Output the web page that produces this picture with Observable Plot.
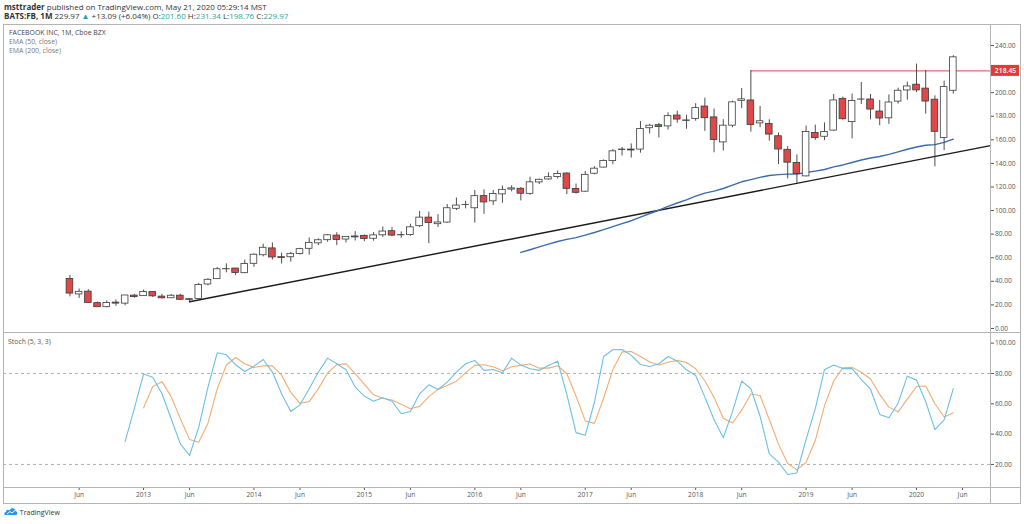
<!DOCTYPE html>
<html><head><meta charset="utf-8">
<script src="https://cdn.jsdelivr.net/npm/d3@7"></script>
<script src="https://cdn.jsdelivr.net/npm/@observablehq/plot@0.6"></script>
<style>
body{margin:0;background:#fff;font-family:"Open Sans",sans-serif;}
#page{position:relative;width:1024px;height:524px;overflow:hidden;background:#fff;}
.abs{position:absolute;white-space:nowrap;}
.hdr{left:4px;font-size:8px;line-height:10px;color:#333;}
.up{color:#26a69a}
.leg{left:9px;font-size:6.9px;line-height:10px;color:#777;}
.ln{position:absolute;background:#b4b4b4;}
</style></head><body><div id="page">
<div id="price" class="abs" style="left:0;top:24px"></div>
<div id="stoch" class="abs" style="left:0;top:332px"></div>

<div class="ln" style="left:3px;top:24px;width:1018px;height:1px"></div>
<div class="ln" style="left:3px;top:24px;width:1px;height:480px"></div>
<div class="ln" style="left:1020px;top:24px;width:1px;height:480px"></div>
<div class="ln" style="left:3px;top:503px;width:1018px;height:1px"></div>
<div class="ln" style="left:3px;top:332px;width:1018px;height:1px"></div>
<div class="ln" style="left:3px;top:487px;width:1018px;height:1px"></div>
<div class="ln" style="left:990px;top:24px;width:1px;height:480px"></div>

<div class="abs hdr" style="top:2px"><b>msttrader</b> published on TradingView.com, May 21, 2020 05:29:14 MST</div>
<div class="abs hdr" style="top:11px" id="hdr2"></div>
<div class="abs leg" style="top:28px;color:#444">FACEBOOK INC, 1M, Cboe BZX</div>
<div class="abs leg" style="top:37px">EMA (50, close)</div>
<div class="abs leg" style="top:46px">EMA (200, close)</div>
<div class="abs leg" style="top:337px;left:8px;color:#555">Stoch (5, 3, 3)</div>
<div class="abs" style="left:4px;top:507px;font-size:7px;line-height:10px;color:#333">
<svg width="14" height="9" viewBox="0 0 14 9" style="vertical-align:-1px"><path d="M1 8 C0 8 0 5 2 5 C2 3 4 2 5.5 3.5 C6.5 0.5 11 0.5 11.5 4 C13.5 4 14 8 12 8 Z" fill="#2196f3"/><path d="M3 7 L6 4.5 L8 6 L11 3.5" stroke="#fff" stroke-width="1" fill="none"/></svg> TradingView</div>
</div>
<script>
// Monthly candles, FB, May 2012 .. May 2020 (index 0 = 2012-05)
const open = [
42.05, 28.89, 31.25, 21.50, 18.08, 21.95, 21.08, 27.90,
27.44, 31.00, 27.05, 25.63, 27.85, 24.27, 24.97, 37.30, 41.84, 50.31, 50.85, 46.90,
54.86, 62.12, 67.92, 60.46, 60.43, 63.23, 67.58, 72.22, 74.89, 78.78, 75.46, 77.26,
78.58, 76.11, 79.00, 82.50, 79.00, 79.30, 86.77, 94.05, 88.44, 89.82, 101.50, 104.83,
101.95, 112.27, 107.83, 113.75, 117.83, 118.50, 114.20, 123.85, 126.38, 128.38, 131.41, 118.38,
116.03, 131.25, 136.47, 141.93, 151.74, 151.75, 151.72, 169.82, 172.40, 171.39, 180.57, 176.03,
177.68, 188.22, 179.01, 157.81, 172.00, 193.07, 193.37, 173.93, 173.50, 163.03, 151.52, 140.32,
128.99, 165.84, 162.60, 167.83, 194.78, 175.00, 194.08, 194.20, 184.00, 178.23, 192.40, 201.90,
206.75, 203.44, 194.03, 161.62, 201.60];
const high = [
45.00, 33.45, 32.88, 22.45, 23.37, 24.25, 28.00, 28.88,
32.51, 31.02, 28.98, 28.85, 29.07, 25.50, 38.31, 42.26, 51.60, 54.83, 50.90, 57.96,
63.37, 71.44, 72.59, 63.91, 64.45, 68.00, 76.74, 75.99, 79.71, 81.16, 77.96, 82.17,
79.25, 81.37, 86.07, 85.59, 81.95, 88.40, 99.24, 98.74, 96.49, 105.12, 110.65, 107.92,
117.00, 117.59, 116.99, 120.79, 121.08, 119.44, 128.33, 126.73, 131.98, 133.50, 131.94, 122.50,
133.14, 137.18, 142.95, 151.74, 153.60, 156.50, 175.49, 173.05, 174.00, 182.90, 184.25, 180.80,
190.66, 195.32, 186.10, 177.10, 192.72, 203.55, 218.62, 188.30, 177.00, 165.88, 154.13, 147.19,
171.68, 172.47, 174.30, 198.48, 196.18, 198.88, 208.66, 198.50, 193.25, 198.09, 203.80, 208.93,
224.20, 218.77, 197.24, 209.69, 231.34];
const low = [
26.83, 25.52, 21.61, 18.03, 17.55, 18.80, 19.32, 25.60,
27.42, 26.34, 25.10, 25.52, 23.77, 22.67, 24.79, 36.26, 41.55, 47.25, 44.82, 46.50,
51.85, 60.70, 57.98, 54.66, 56.26, 62.34, 62.21, 70.32, 73.22, 70.32, 72.51, 74.20,
73.54, 74.05, 77.26, 77.80, 76.53, 78.22, 85.53, 72.00, 85.66, 89.27, 100.00, 101.46,
89.37, 96.82, 104.40, 106.31, 115.88, 108.23, 112.97, 122.07, 125.60, 126.75, 113.55, 114.00,
115.51, 130.30, 136.08, 138.81, 146.30, 144.56, 148.67, 165.00, 161.56, 168.29, 174.00, 168.90,
175.80, 167.18, 149.02, 150.51, 170.23, 186.43, 166.56, 170.27, 158.87, 139.03, 126.85, 123.02,
128.56, 159.59, 159.28, 167.28, 176.66, 160.84, 190.00, 176.91, 172.00, 173.10, 190.25, 193.63,
199.97, 181.82, 137.10, 150.83, 198.76];
const close = [
29.60, 31.10, 21.71, 18.06, 21.66, 21.11, 28.00, 26.62,
30.98, 27.25, 25.58, 27.77, 24.35, 24.88, 36.80, 41.29, 50.23, 50.21, 47.01, 54.65,
62.57, 68.46, 60.24, 59.78, 63.30, 67.29, 72.65, 74.82, 79.04, 74.99, 77.70, 78.02,
75.91, 78.97, 82.22, 78.77, 79.19, 85.77, 94.01, 89.43, 89.90, 101.97, 104.24, 104.66,
112.21, 106.92, 114.10, 117.58, 118.81, 114.28, 123.94, 126.12, 128.27, 130.99, 118.42, 115.05,
130.32, 135.54, 142.05, 150.25, 151.46, 150.98, 169.25, 171.97, 170.87, 180.06, 177.18, 176.46,
186.89, 178.32, 159.79, 172.00, 191.78, 194.32, 172.58, 175.73, 164.46, 151.79, 140.61, 131.09,
166.69, 161.45, 166.69, 193.40, 177.47, 193.00, 194.23, 185.67, 178.08, 191.65, 201.64, 205.25,
201.91, 192.47, 166.80, 204.71, 229.97];

// EMA(50) starting Jun 2016 (index 49)
const emaStart = 49;
const ema50 = [
64.5, 66.8, 69.2, 71.5, 73.8, 75.6, 77.1,
79.2, 81.4, 83.8, 86.4, 88.9, 91.4, 94.4, 97.5, 100.3, 103.5, 106.4, 109.1,
112.2, 114.8, 116.5, 118.7, 121.6, 124.4, 126.3, 128.2, 129.7, 130.5, 130.9, 130.9,
132.3, 133.5, 134.8, 137.1, 138.7, 140.8, 142.9, 144.6, 145.9, 147.7, 149.8, 152.0,
153.9, 155.4, 155.9, 157.8, 160.6];

// Stochastic %K starting Nov 2012 (index 6), %D starting Jan 2013 (index 8)
const kStart = 6;
const stochK = [
35.2, 57.0,
79.6, 77.5, 66.6, 50.1, 33.6, 25.9, 44.6, 71.0, 93.6, 92.3, 85.7, 81.3,
84.8, 89.2, 80.9, 66.6, 54.9, 59.3, 69.9, 80.9, 90.1, 86.4, 82.4, 71.0,
65.0, 61.7, 64.0, 61.7, 53.4, 54.9, 66.6, 72.5, 69.4, 74.3, 80.9, 86.4,
88.6, 82.0, 82.6, 80.4, 90.1, 85.5, 83.1, 82.0, 85.3, 88.1, 66.0, 41.0,
39.2, 61.0, 91.2, 95.6, 95.8, 91.9, 85.9, 84.6, 86.4, 91.2, 88.1, 82.4,
78.7, 64.4, 49.5, 37.6, 54.8, 74.9, 69.9, 51.8, 27.0, 21.5, 13.4, 14.4,
36.5, 56.8, 82.5, 85.6, 83.2, 83.2, 76.0, 69.6, 53.0, 50.8, 60.4, 78.2,
75.6, 61.4, 43.0, 49.4, 70.0];
const dStart = 8;
const stochD = [
57.3, 71.4, 74.6, 64.7, 50.1, 36.5, 34.7, 47.2, 69.7, 85.6, 90.5, 86.4,
83.9, 85.1, 85.0, 78.9, 67.5, 60.3, 61.4, 70.0, 80.3, 85.8, 86.3, 79.9,
72.8, 65.9, 63.6, 62.5, 59.7, 56.7, 58.3, 64.7, 69.5, 72.1, 74.9, 80.5,
85.3, 85.7, 84.4, 81.7, 84.4, 85.3, 86.2, 83.5, 83.5, 85.1, 79.8, 65.0,
48.7, 47.1, 63.8, 82.6, 94.2, 94.4, 91.2, 87.5, 85.6, 87.4, 88.6, 87.2,
83.1, 75.2, 64.2, 50.5, 47.3, 55.8, 66.5, 65.5, 49.6, 33.4, 20.6, 16.4,
21.4, 35.9, 58.6, 75.0, 83.8, 84.0, 80.8, 76.3, 66.2, 57.8, 54.7, 63.1,
71.4, 71.7, 60.0, 51.3, 54.1];

// Trendline (Jun 2013 low through Dec 2018 low, extended to the right edge)
const trendIdx = [13, 100.04];
const trendVal = [22.67, 155.1];
const resistance = 218.45, resistanceFrom = 74; // Jul 2018 high

// Time axis
const tickIdx = [1, 8, 13, 20, 25, 32, 37, 44, 49, 56, 61, 68, 73, 80, 85, 92, 97];
const tickLabels = ["Jun","2013","Jun","2014","Jun","2015","Jun","2016","Jun","2017","Jun","2018","Jun","2019","Jun","2020","Jun"];
const priceTicks = [0, 20, 40, 60, 80, 100, 120, 140, 160, 180, 200, 220, 240];
const stochTicks = [20, 40, 60, 80, 100];

const xDomain = [-7.22, 100.04];
const candles = close.map((c, i) => ({i, open: open[i], high: high[i], low: low[i], close: c}));
const emaData = ema50.map((v, k) => ({i: emaStart + k, v}));
const kData = stochK.map((v, k) => ({i: kStart + k, v}));
const dData = stochD.map((v, k) => ({i: dStart + k, v}));
const trend = trendIdx.map((i, k) => ({i, v: trendVal[k]}));

const last = candles[candles.length - 1];
document.getElementById("hdr2").innerHTML =
  `<b>BATS:FB, 1M</b> ${last.close.toFixed(2)} <span class="up">▲</span> +13.09 (+6.04%) O:<span class="up">${last.open.toFixed(2)}</span> H:<span class="up">${last.high.toFixed(2)}</span> L:<span class="up">${last.low.toFixed(2)}</span> C:<span class="up">${last.close.toFixed(2)}</span>`;

const RED = "#e04848", EDGE = "#3a3a3a";
const axisStyle = {fontFamily: "Open Sans, sans-serif", fontSize: "6.6px", color: "#555", background: "transparent", overflow: "visible"};

const price = Plot.plot({
  width: 1024, height: 308,
  marginLeft: 3, marginRight: 34, marginTop: 0, marginBottom: 0,
  style: axisStyle,
  x: {domain: xDomain, axis: null},
  y: {domain: [-3.4, 257.8], axis: "right", ticks: priceTicks, tickFormat: d => d.toFixed(2), tickSize: 3, tickPadding: 1.5, label: null},
  marks: [
    Plot.line(trend, {x: "i", y: "v", stroke: "#1a1a1a", strokeWidth: 1.4}),
    Plot.line(emaData, {x: "i", y: "v", stroke: "#3a6cab", strokeWidth: 1.4}),
    Plot.ruleY([resistance], {x1: resistanceFrom, x2: xDomain[1], stroke: "#d94a3f", strokeWidth: 1}),
    Plot.ruleX(candles, {x: "i", y1: "low", y2: "high", stroke: EDGE, strokeWidth: 0.9}),
    Plot.rect(candles, {x1: d => d.i - 0.36, x2: d => d.i + 0.36, y1: "open", y2: "close",
      fill: d => d.close >= d.open ? "#ffffff" : RED, stroke: EDGE, strokeWidth: 0.8}),
    Plot.rect([resistance], {x1: xDomain[1], x2: xDomain[1], y1: d => d, y2: d => d,
      insetRight: -29, insetTop: -5.5, insetBottom: -5.5, fill: "#e53935"}),
    Plot.text([resistance], {y: d => d, frameAnchor: "right", dx: 15, text: d => d.toFixed(2),
      fill: "white", fontSize: 6.8, fontWeight: 600, textAnchor: "middle"})
  ]
});
document.getElementById("price").appendChild(price);

const stoch = Plot.plot({
  width: 1024, height: 171,
  marginLeft: 3, marginRight: 34, marginTop: 0, marginBottom: 16,
  style: axisStyle,
  x: {domain: xDomain, ticks: tickIdx, tickFormat: d => tickLabels[tickIdx.indexOf(d)], tickSize: 3, tickPadding: 2, label: null},
  y: {domain: [4.8, 107], axis: "right", ticks: stochTicks, tickFormat: d => d.toFixed(2), tickSize: 3, tickPadding: 1.5, label: null},
  marks: [
    Plot.ruleY([20, 80], {stroke: "#9a9a9a", strokeWidth: 0.8, strokeDasharray: "3,3"}),
    Plot.line(dData, {x: "i", y: "v", stroke: "#f2ad72", strokeWidth: 1.1}),
    Plot.line(kData, {x: "i", y: "v", stroke: "#6cbfe4", strokeWidth: 1.1})
  ]
});
document.getElementById("stoch").appendChild(stoch);
</script>
</body></html>
